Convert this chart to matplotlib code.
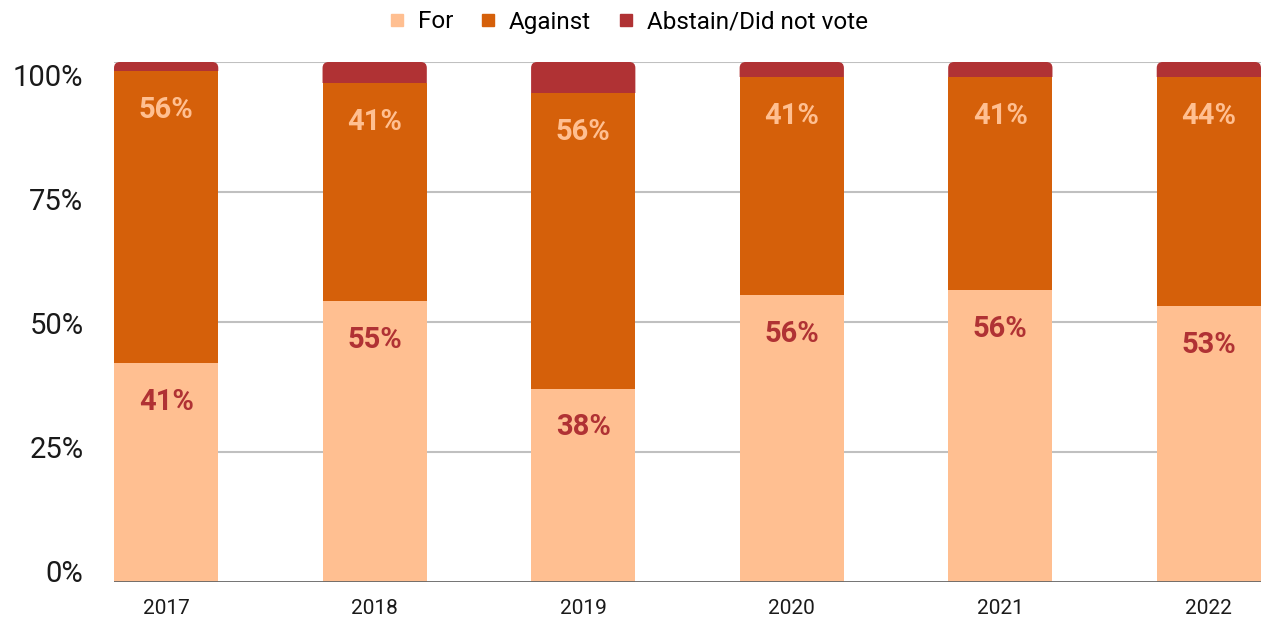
import numpy as np
import matplotlib.pyplot as plt
from matplotlib.patches import FancyBboxPatch, Rectangle
from matplotlib.lines import Line2D

plt.rcParams['font.family'] = ['Roboto', 'DejaVu Sans']

# data (percent of votes)
years = ['2017', '2018', '2019', '2020', '2021', '2022']
for_vals = [42.1, 54.0, 37.2, 55.2, 56.2, 53.1]
against_vals = [56.1, 42.0, 56.9, 41.9, 40.9, 44.0]
abstain_vals = [1.8, 4.0, 5.9, 2.9, 2.9, 2.9]
for_labels = ['41%', '55%', '38%', '56%', '56%', '53%']
against_labels = ['56%', '41%', '56%', '41%', '41%', '44%']
series_names = ['For', 'Against', 'Abstain/Did not vote']
grid_vals = [0, 25, 50, 75, 100]
grid_labels = ['0%', '25%', '50%', '75%', '100%']

c_for = '#FFBF91'
c_against = '#D5600A'
c_abstain = '#B03234'

W, H = 1263, 619
fig = plt.figure(figsize=(W / 100, H / 100), dpi=100)
ax = fig.add_axes([114 / W, 37 / H, (1261 - 114) / W, (582 - 62) / H])

x = np.arange(len(years))
width = 0.5
ax.set_xlim(-0.25, len(years) - 0.75)
ax.set_ylim(0, 100)

for_arr = np.array(for_vals)
against_arr = np.array(against_vals)
abstain_arr = np.array(abstain_vals)

ax.bar(x, for_arr, width, color=c_for, zorder=3)
ax.bar(x, against_arr, width, bottom=for_arr, color=c_against, zorder=3)

# abstain segment with rounded top corners (bottom corners clipped away)
ax_w_px = (1261 - 114)
ax_h_px = (582 - 62)
px_x = ax_w_px / (ax.get_xlim()[1] - ax.get_xlim()[0])
px_y = ax_h_px / 100
r_px = 6
r = r_px / px_x
aspect = (r_px / px_y) / r
top_base = for_arr + against_arr
for xi, b, h in zip(x, top_base, abstain_arr):
    extra = 2 * r_px / px_y
    patch = FancyBboxPatch((xi - width / 2, b - extra), width, h + extra,
                           boxstyle=f'round,pad=0,rounding_size={r}',
                           mutation_aspect=aspect, facecolor=c_abstain,
                           edgecolor='none', zorder=3)
    clip = Rectangle((xi - width, b), 2 * width, h + 5, transform=ax.transData)
    ax.add_patch(patch)
    patch.set_clip_path(clip)

# segment labels just under the top of each segment
for xi, f, lab in zip(x, for_arr, for_labels):
    ax.annotate(lab, (xi, f), xytext=(0, -28), textcoords='offset points',
                ha='center', va='center', fontsize=21, fontweight='bold',
                color=c_abstain, zorder=5)
for xi, t, lab in zip(x, top_base, against_labels):
    ax.annotate(lab, (xi, t), xytext=(0, -28), textcoords='offset points',
                ha='center', va='center', fontsize=21, fontweight='bold',
                color=c_for, zorder=5)

# gridlines
for g in grid_vals[1:]:
    ax.axhline(g, color='#C0C0C0', lw=1.5, zorder=1)
ax.axhline(0, color='#666666', lw=2, zorder=4)

for s in ax.spines.values():
    s.set_visible(False)

# y labels sit slightly off the gridlines in the reference
ytick_pos = [2.1 + 0.954 * g for g in grid_vals]
ax.set_yticks(ytick_pos)
ax.set_yticklabels(grid_labels, fontsize=21, color='#1a1a1a')
ax.tick_params(axis='y', length=0, pad=22)

ax.set_xticks(x)
ax.set_xticklabels(years, fontsize=15, color='#1a1a1a')
ax.tick_params(axis='x', length=0, pad=12)

handles = [Line2D([], [], marker='s', linestyle='none', markersize=9,
                  markerfacecolor=c, markeredgecolor=c)
           for c in (c_for, c_against, c_abstain)]
fig.legend(handles, series_names, loc='center', ncol=3,
           bbox_to_anchor=(0.497, 1 - 22 / H), frameon=False, fontsize=17.5,
           handletextpad=0.45, columnspacing=1.05, handlelength=0.8)

fig.savefig('out.png', dpi=100)
